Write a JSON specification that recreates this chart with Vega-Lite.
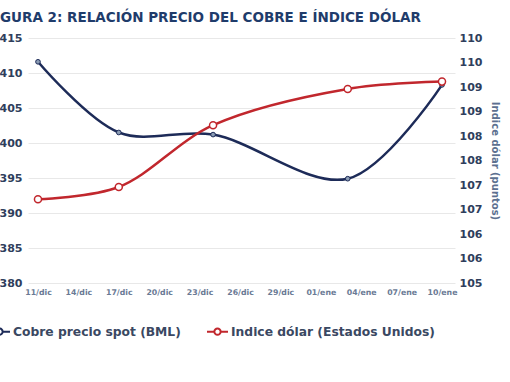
{
  "$schema": "https://vega.github.io/schema/vega-lite/v6.json",
  "width": 427,
  "height": 245,
  "autosize": {"type": "none"},
  "padding": {"left": 28, "top": 38, "right": 55, "bottom": 99},
  "background": "white",
  "title": {
    "text": "GURA 2: RELACIÓN PRECIO DEL COBRE E ÍNDICE DÓLAR",
    "anchor": "start",
    "frame": "group",
    "dx": -28,
    "offset": 8,
    "font": "DejaVu Sans",
    "fontSize": 13.5,
    "fontWeight": "bold",
    "color": "#1f3c6b"
  },
  "data": {
    "values": [
      {"fecha": "2010-12-11", "serie": "Cobre precio spot (BML)", "valor": 411.6},
      {"fecha": "2010-12-17", "serie": "Cobre precio spot (BML)", "valor": 401.5},
      {"fecha": "2010-12-24", "serie": "Cobre precio spot (BML)", "valor": 401.2},
      {"fecha": "2011-01-03", "serie": "Cobre precio spot (BML)", "valor": 394.9},
      {"fecha": "2011-01-10", "serie": "Cobre precio spot (BML)", "valor": 408.3},
      {"fecha": "2010-12-11", "serie": "Indice dólar (Estados Unidos)", "valor": 106.71},
      {"fecha": "2010-12-17", "serie": "Indice dólar (Estados Unidos)", "valor": 106.96},
      {"fecha": "2010-12-24", "serie": "Indice dólar (Estados Unidos)", "valor": 108.22},
      {"fecha": "2011-01-03", "serie": "Indice dólar (Estados Unidos)", "valor": 108.96},
      {"fecha": "2011-01-10", "serie": "Indice dólar (Estados Unidos)", "valor": 109.11}
    ]
  },
  "encoding": {
    "x": {
      "field": "fecha",
      "type": "temporal",
      "scale": {
        "type": "utc",
        "domain": [
          {"year": 2010, "month": 12, "date": 10, "hours": 6, "minutes": 12, "utc": true},
          {"year": 2011, "month": 1, "date": 10, "hours": 23, "minutes": 10, "utc": true}
        ]
      },
      "axis": {
        "title": null,
        "grid": false,
        "ticks": false,
        "domain": false,
        "labelPadding": 5,
        "labelFont": "DejaVu Sans",
        "labelFontSize": 7.8,
        "labelFontWeight": "bold",
        "labelColor": "#6a7a95",
        "labelFlush": false,
        "labelOverlap": false,
        "values": [
          {"year": 2010, "month": 12, "date": 11, "utc": true},
          {"year": 2010, "month": 12, "date": 14, "utc": true},
          {"year": 2010, "month": 12, "date": 17, "utc": true},
          {"year": 2010, "month": 12, "date": 20, "utc": true},
          {"year": 2010, "month": 12, "date": 23, "utc": true},
          {"year": 2010, "month": 12, "date": 26, "utc": true},
          {"year": 2010, "month": 12, "date": 29, "utc": true},
          {"year": 2011, "month": 1, "date": 1, "utc": true},
          {"year": 2011, "month": 1, "date": 4, "utc": true},
          {"year": 2011, "month": 1, "date": 7, "utc": true},
          {"year": 2011, "month": 1, "date": 10, "utc": true}
        ],
        "labelExpr": "utcFormat(datum.value, '%d') + '/' + (utcmonth(datum.value) == 11 ? 'dic' : 'ene')"
      }
    }
  },
  "layer": [
    {
      "transform": [{"filter": "datum.serie === 'Cobre precio spot (BML)'"}],
      "encoding": {
        "y": {
          "field": "valor",
          "type": "quantitative",
          "scale": {"domain": [380, 415], "nice": false, "zero": false},
          "axis": {
            "title": null,
            "orient": "left",
            "values": [380, 385, 390, 395, 400, 405, 410, 415],
            "grid": true,
            "gridColor": "#e8e8e8",
            "ticks": false,
            "domain": false,
            "labelPadding": 6,
            "labelFont": "DejaVu Sans",
            "labelFontSize": 11,
            "labelFontWeight": "bold",
            "labelColor": "#2f3e5c"
          }
        }
      },
      "layer": [
        {
          "mark": {"type": "line", "interpolate": "catmull-rom", "strokeWidth": 2.5},
          "encoding": {
            "color": {
              "field": "serie",
              "type": "nominal",
              "scale": {
                "domain": ["Cobre precio spot (BML)", "Indice dólar (Estados Unidos)"],
                "range": ["#1d2b58", "#c1272d"]
              },
              "legend": {
                "orient": "none",
                "direction": "horizontal",
                "legendX": -40,
                "legendY": 282,
                "title": null,
                "padding": 0,
                "symbolType": "M-1,0H-0.3M0.3,0H1M-0.3,0A0.3,0.3,0,1,1,0.3,0A0.3,0.3,0,1,1,-0.3,0Z",
                "symbolSize": 441,
                "symbolStrokeWidth": 2,
                "symbolFillColor": "white",
                "labelFont": "DejaVu Sans",
                "labelFontSize": 12.3,
                "labelFontWeight": "bold",
                "labelColor": "#3a4862",
                "labelOffset": 2,
                "columnPadding": 22,
                "labelLimit": 400
              }
            }
          }
        },
        {
          "mark": {"type": "point", "shape": "circle", "filled": true, "size": 22, "fill": "#8a9bb3", "stroke": "#1d2b58", "strokeWidth": 1, "opacity": 1}
        }
      ]
    },
    {
      "transform": [{"filter": "datum.serie === 'Indice dólar (Estados Unidos)'"}],
      "encoding": {
        "y": {
          "field": "valor",
          "type": "quantitative",
          "scale": {"domain": [105, 110], "nice": false, "zero": false},
          "axis": {
            "title": "Indice dólar (puntos)",
            "orient": "right",
            "values": [105, 105.5, 106, 106.5, 107, 107.5, 108, 108.5, 109, 109.5, 110],
            "labelExpr": "'' + round(datum.value)",
            "labelOverlap": false,
            "grid": false,
            "ticks": false,
            "domain": false,
            "labelPadding": 4,
            "labelFont": "DejaVu Sans",
            "labelFontSize": 11,
            "labelFontWeight": "bold",
            "labelColor": "#2f3e5c",
            "titleFont": "DejaVu Sans",
            "titleFontSize": 10,
            "titleFontWeight": "bold",
            "titleColor": "#5c7090",
            "titlePadding": 8
          }
        }
      },
      "layer": [
        {
          "mark": {"type": "line", "interpolate": "catmull-rom", "strokeWidth": 2.5},
          "encoding": {
            "color": {"field": "serie", "type": "nominal"}
          }
        },
        {
          "mark": {"type": "point", "shape": "circle", "filled": true, "size": 50, "fill": "white", "stroke": "#c1272d", "strokeWidth": 1.5, "opacity": 1}
        }
      ]
    }
  ],
  "resolve": {"scale": {"y": "independent"}},
  "config": {"view": {"stroke": null}}
}
